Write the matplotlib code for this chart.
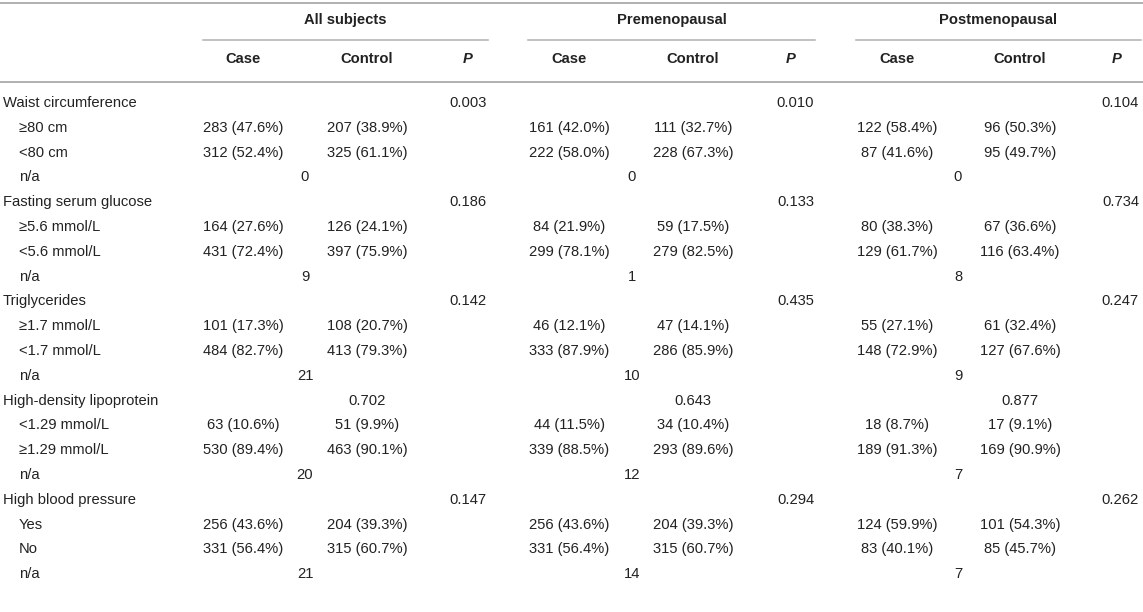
import matplotlib
matplotlib.use('Agg')
import matplotlib.pyplot as plt

plt.rcParams['font.family'] = ['Liberation Sans', 'DejaVu Sans']

groups = ['All subjects', 'Premenopausal', 'Postmenopausal']
variables = ['Waist circumference', 'Fasting serum glucose', 'Triglycerides',
             'High-density lipoprotein', 'High blood pressure']
levels = [['≥80 cm', '<80 cm'],
          ['≥5.6 mmol/L', '<5.6 mmol/L'],
          ['≥1.7 mmol/L', '<1.7 mmol/L'],
          ['<1.29 mmol/L', '≥1.29 mmol/L'],
          ['Yes', 'No']]

# counts and percents per group, per variable, per level
case_n = [[[283, 312], [164, 431], [101, 484], [63, 530], [256, 331]],
          [[161, 222], [84, 299], [46, 333], [44, 339], [256, 331]],
          [[122, 87], [80, 129], [55, 148], [18, 189], [124, 83]]]
case_pct = [[[47.6, 52.4], [27.6, 72.4], [17.3, 82.7], [10.6, 89.4], [43.6, 56.4]],
            [[42.0, 58.0], [21.9, 78.1], [12.1, 87.9], [11.5, 88.5], [43.6, 56.4]],
            [[58.4, 41.6], [38.3, 61.7], [27.1, 72.9], [8.7, 91.3], [59.9, 40.1]]]
ctrl_n = [[[207, 325], [126, 397], [108, 413], [51, 463], [204, 315]],
          [[111, 228], [59, 279], [47, 286], [34, 293], [204, 315]],
          [[96, 95], [67, 116], [61, 127], [17, 169], [101, 85]]]
ctrl_pct = [[[38.9, 61.1], [24.1, 75.9], [20.7, 79.3], [9.9, 90.1], [39.3, 60.7]],
            [[32.7, 67.3], [17.5, 82.5], [14.1, 85.9], [10.4, 89.6], [39.3, 60.7]],
            [[50.3, 49.7], [36.6, 63.4], [32.4, 67.6], [9.1, 90.9], [54.3, 45.7]]]
p_values = [['0.003', '0.186', '0.142', '0.702', '0.147'],
            ['0.010', '0.133', '0.435', '0.643', '0.294'],
            ['0.104', '0.734', '0.247', '0.877', '0.262']]
na_counts = [[0, 9, 21, 20, 21],
             [0, 1, 10, 12, 14],
             [0, 8, 9, 7, 7]]

# layout (pixel coords)
case_x = [243, 569, 897]
ctrl_x = [367, 693, 1020]
p_x = [468, 791, 1117]
p_right = [487, 814, 1139]
na_x = [305, 632, 958]
span = [(203, 488), (528, 815), (856, 1141)]
row0, step = 103, 24.8

fs = 10.6
col = '#222222'
line_col = '#b0b0b0'

fig = plt.figure(figsize=(11.43, 6.12), dpi=100)
ax = fig.add_axes([0, 0, 1, 1])
ax.set_xlim(0, 1143)
ax.set_ylim(612, 0)
ax.axis('off')

ax.plot([0, 1143], [3, 3], color=line_col, lw=1.4)
ax.plot([0, 1143], [82, 82], color=line_col, lw=1.4)

for g in range(3):
    x0, x1 = span[g]
    ax.plot([x0, x1], [40, 40], color=line_col, lw=1.1)
    ax.text((x0 + x1) / 2, 20, groups[g], ha='center', va='center',
            fontsize=fs, fontweight='bold', color=col)
    ax.text(case_x[g], 59, 'Case', ha='center', va='center',
            fontsize=fs, fontweight='bold', color=col)
    ax.text(ctrl_x[g], 59, 'Control', ha='center', va='center',
            fontsize=fs, fontweight='bold', color=col)
    ax.text(p_x[g], 59, 'P', ha='center', va='center', fontsize=fs,
            fontweight='bold', fontstyle='italic', color=col)

r = 0
for v, name in enumerate(variables):
    y = row0 + r * step
    ax.text(3, y, name, ha='left', va='center', fontsize=fs, color=col)
    for g in range(3):
        if name == 'High-density lipoprotein':
            ax.text(ctrl_x[g], y, p_values[g][v], ha='center', va='center',
                    fontsize=fs, color=col)
        else:
            ax.text(p_right[g], y, p_values[g][v], ha='right', va='center',
                    fontsize=fs, color=col)
    r += 1
    for k, lev in enumerate(levels[v]):
        y = row0 + r * step
        ax.text(19, y, lev, ha='left', va='center', fontsize=fs, color=col)
        for g in range(3):
            ax.text(case_x[g], y, f'{case_n[g][v][k]} ({case_pct[g][v][k]:.1f}%)',
                    ha='center', va='center', fontsize=fs, color=col)
            ax.text(ctrl_x[g], y, f'{ctrl_n[g][v][k]} ({ctrl_pct[g][v][k]:.1f}%)',
                    ha='center', va='center', fontsize=fs, color=col)
        r += 1
    y = row0 + r * step
    ax.text(19, y, 'n/a', ha='left', va='center', fontsize=fs, color=col)
    for g in range(3):
        ax.text(na_x[g], y, str(na_counts[g][v]), ha='center', va='center',
                fontsize=fs, color=col)
    r += 1

fig.savefig('out.png', dpi=100)
